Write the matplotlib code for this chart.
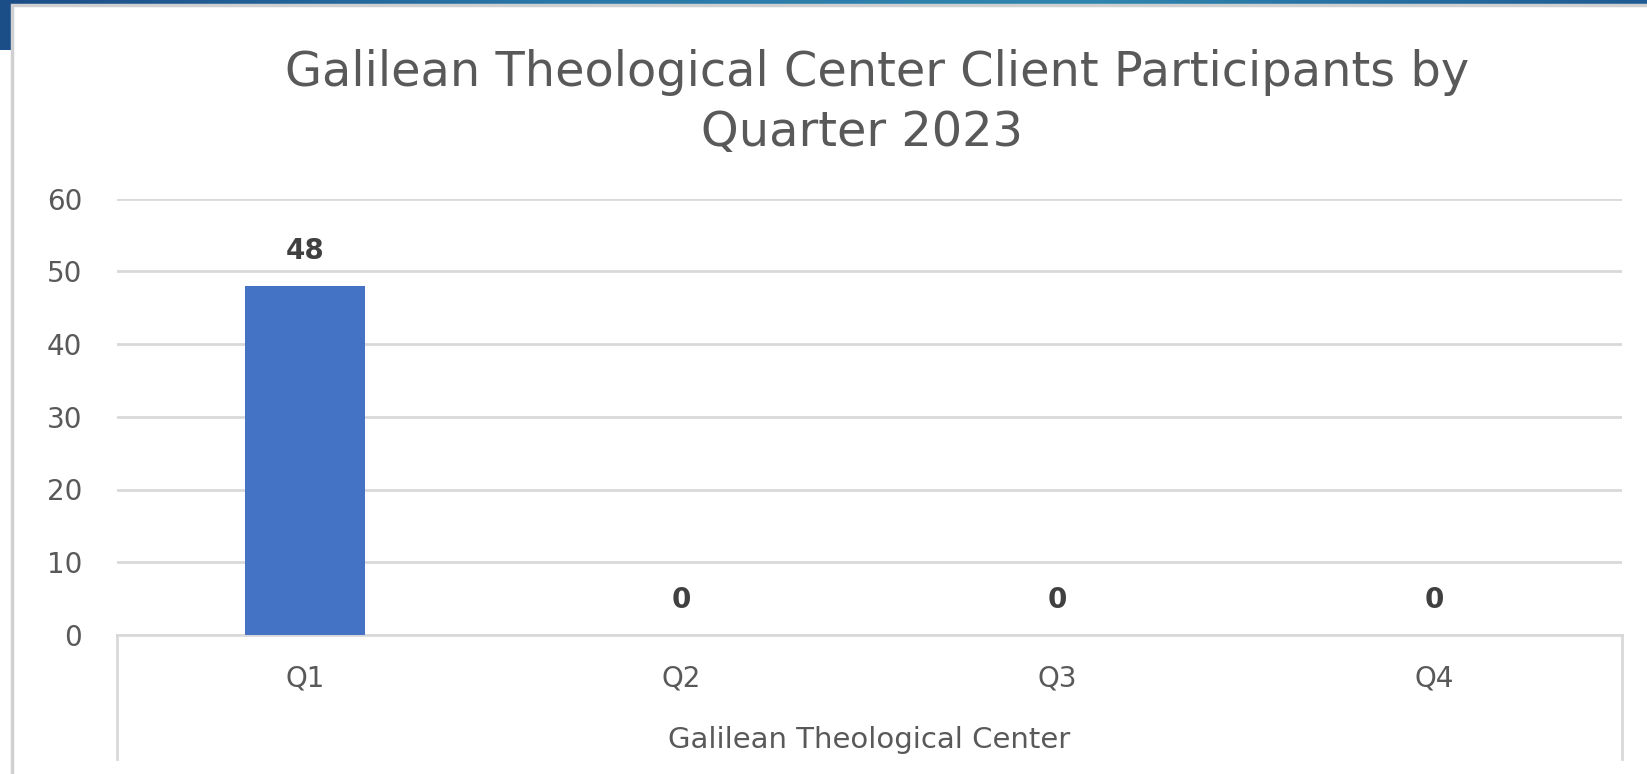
import numpy as np
import matplotlib
matplotlib.use("Agg")
import matplotlib.pyplot as plt
from matplotlib.patches import Rectangle
from matplotlib.colors import LinearSegmentedColormap

plt.rcParams['font.family'] = ['DejaVu Sans']

quarters = ["Q1", "Q2", "Q3", "Q4"]
participants = [48, 0, 0, 0]
title_l1 = "Galilean Theological Center Client Participants by"
title_l2 = "Quarter 2023"
group_label = "Galilean Theological Center"

txt = '#595959'
grid = '#d9d9d9'

fig = plt.figure(figsize=(16.47, 7.74), dpi=100)
fig.patch.set_facecolor('white')

# blue header strip behind the chart panel
bg = fig.add_axes([0, 1 - 50/774, 1, 50/774], zorder=0)
grad = np.vstack([np.linspace(0, 1, 256)] * 2)
cm = LinearSegmentedColormap.from_list('hdr', ['#1b4d86', '#2a78a8', '#2f86b0', '#1f5b94'])
bg.imshow(grad, aspect='auto', cmap=cm, extent=[0, 1, 0, 1])
bg.axis('off')

# white chart panel with light border
fig.patches.append(Rectangle((12/1647, -0.1), 1.1, 1 - 5/774 + 0.1, transform=fig.transFigure,
                             facecolor='white', edgecolor='#d0d0d0', linewidth=2.5, zorder=1))

ax = fig.add_axes([117/1647, 1 - 635/774, (1622 - 117)/1647, (635 - 198.5)/774], zorder=2)
ax.patch.set_alpha(0)
x = np.arange(len(quarters))
ax.bar(x, participants, width=0.32, color='#4472C4', zorder=3)
ax.set_xlim(-0.5, len(quarters) - 0.5)
ax.set_ylim(0, 60)
ax.set_yticks(range(0, 61, 10))
ax.yaxis.grid(True, color=grid, linewidth=2)
ax.set_axisbelow(True)
for s in ['top', 'right', 'left']:
    ax.spines[s].set_visible(False)
ax.spines['bottom'].set_color(grid)
ax.spines['bottom'].set_linewidth(2)
ax.tick_params(length=0, labelsize=20, labelcolor=txt)
ax.tick_params(axis='y', pad=25)
ax.tick_params(axis='x', pad=21)
ax.set_xticks(x)
ax.set_xticklabels(quarters)

for xi, v in zip(x, participants):
    ax.annotate(str(v), (xi, v), xytext=(0, 15), textcoords='offset points',
                ha='center', va='bottom', fontsize=20, fontweight='bold', color='#404040')

# multi-level category frame
for xa in [0, 1]:
    ax.plot([xa, xa], [0, -0.284], transform=ax.transAxes, color=grid, linewidth=2, clip_on=False)
ax.text(0.5, -0.24, group_label, transform=ax.transAxes, ha='center', va='center',
        fontsize=21, color=txt)

fig.text(877/1647, 1 - 73/774, title_l1, ha='center', va='center', fontsize=34.5, color=txt)
fig.text(862/1647, 1 - 133/774, title_l2, ha='center', va='center', fontsize=34.5, color=txt)

fig.savefig('out.png', dpi=100)
